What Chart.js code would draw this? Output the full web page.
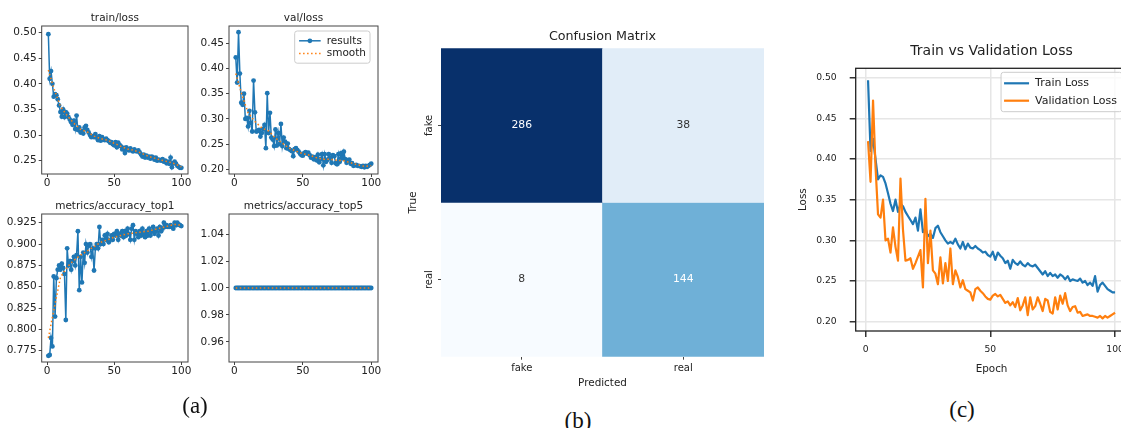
<!DOCTYPE html>
<html>
<head>
<meta charset="utf-8">
<title>Training curves and confusion matrix</title>
<script src="https://cdn.jsdelivr.net/npm/chart.js@4.4.0/dist/chart.umd.min.js"></script>
<style>
  html, body { margin: 0; padding: 0; background: #fff; }
  body { position: relative; width: 1121px; height: 428px; overflow: hidden; }
  canvas { position: absolute; }
  .cap {
    position: absolute;
    transform: translate(-50%, -50%);
    font-family: "Liberation Serif", "DejaVu Serif", serif;
    font-size: 23px;
    color: #111;
    white-space: nowrap;
  }
</style>
</head>
<body>
<canvas id="trainLoss" width="196" height="194" style="left:0;top:0"></canvas>
<canvas id="valLoss" width="196" height="194" style="left:190px;top:0"></canvas>
<canvas id="accTop1" width="196" height="194" style="left:0;top:188px"></canvas>
<canvas id="accTop5" width="196" height="194" style="left:190px;top:188px"></canvas>
<canvas id="confusion" width="370" height="372" style="left:400px;top:20px"></canvas>
<canvas id="lossCompare" width="345" height="349" style="left:790px;top:30px"></canvas>
<div class="cap" style="left:195px;top:406px">(a)</div>
<div class="cap" style="left:578px;top:421px">(b)</div>
<div class="cap" style="left:962px;top:410px">(c)</div>

<script>
// per-epoch training log (100 epochs)
const epochs = Array.from({ length: 100 }, (_, i) => i + 1);

const trainLoss = [
  0.497, 0.410, 0.425, 0.400, 0.375, 0.380, 0.378, 0.370, 0.358, 0.345,
  0.336, 0.350, 0.335, 0.345, 0.342, 0.335, 0.330, 0.325, 0.320, 0.328,
  0.312, 0.338, 0.310, 0.315, 0.305, 0.308, 0.303, 0.315, 0.318, 0.310,
  0.305, 0.300, 0.296, 0.298, 0.296, 0.302, 0.295, 0.290, 0.298, 0.289,
  0.296, 0.291, 0.290, 0.293, 0.290, 0.288, 0.285, 0.286, 0.282, 0.280,
  0.286, 0.276, 0.285, 0.281, 0.278, 0.272, 0.275, 0.265, 0.276, 0.272,
  0.270, 0.274, 0.270, 0.268, 0.272, 0.269, 0.268, 0.270, 0.266, 0.262,
  0.258, 0.262, 0.256, 0.260, 0.256, 0.258, 0.254, 0.258, 0.256, 0.252,
  0.256, 0.250, 0.252, 0.251, 0.250, 0.253, 0.248, 0.250, 0.245, 0.248,
  0.244, 0.256, 0.237, 0.245, 0.248, 0.244, 0.240, 0.238, 0.236, 0.236
];

const valLoss = [
  0.422, 0.372, 0.472, 0.390, 0.332, 0.328, 0.350, 0.300, 0.302, 0.285,
  0.316, 0.292, 0.275, 0.376, 0.313, 0.275, 0.276, 0.278, 0.265, 0.272,
  0.280, 0.288, 0.242, 0.351, 0.272, 0.312, 0.263, 0.259, 0.246, 0.279,
  0.247, 0.272, 0.250, 0.290, 0.246, 0.263, 0.255, 0.242, 0.251, 0.240,
  0.238, 0.236, 0.226, 0.240, 0.242, 0.238, 0.235, 0.231, 0.228, 0.227,
  0.232, 0.234, 0.231, 0.233, 0.228, 0.223, 0.225, 0.220, 0.224, 0.218,
  0.229, 0.214, 0.220, 0.230, 0.208, 0.230, 0.215, 0.219, 0.230, 0.222,
  0.213, 0.228, 0.226, 0.212, 0.210, 0.230, 0.215, 0.232, 0.222, 0.235,
  0.220, 0.213, 0.218, 0.219, 0.211, 0.212, 0.207, 0.208, 0.209, 0.207,
  0.207, 0.206, 0.205, 0.207, 0.204, 0.207, 0.205, 0.207, 0.209, 0.211
];

const accTop1 = [
  0.769, 0.770, 0.790, 0.780, 0.862, 0.815, 0.860, 0.870, 0.875, 0.870,
  0.877, 0.872, 0.865, 0.811, 0.895, 0.875, 0.880, 0.870, 0.880, 0.885,
  0.875, 0.887, 0.915, 0.846, 0.885, 0.855, 0.890, 0.878, 0.900, 0.890,
  0.898, 0.900, 0.885, 0.895, 0.869, 0.895, 0.900, 0.895, 0.920, 0.900,
  0.905, 0.900, 0.910, 0.905, 0.912, 0.902, 0.905, 0.910, 0.905, 0.912,
  0.910, 0.915, 0.905, 0.912, 0.910, 0.915, 0.908, 0.915, 0.910, 0.918,
  0.912, 0.905, 0.918, 0.922, 0.905, 0.915, 0.912, 0.908, 0.915, 0.910,
  0.918, 0.912, 0.908, 0.915, 0.910, 0.918, 0.910, 0.915, 0.920, 0.912,
  0.915, 0.918, 0.910, 0.920, 0.915, 0.918, 0.925, 0.920, 0.922, 0.920,
  0.920, 0.922, 0.920, 0.918, 0.925, 0.922, 0.925, 0.923, 0.922, 0.921
];

const accTop5 = [
  1, 1, 1, 1, 1, 1, 1, 1, 1, 1, 1, 1, 1, 1, 1, 1, 1, 1, 1, 1,
  1, 1, 1, 1, 1, 1, 1, 1, 1, 1, 1, 1, 1, 1, 1, 1, 1, 1, 1, 1,
  1, 1, 1, 1, 1, 1, 1, 1, 1, 1, 1, 1, 1, 1, 1, 1, 1, 1, 1, 1,
  1, 1, 1, 1, 1, 1, 1, 1, 1, 1, 1, 1, 1, 1, 1, 1, 1, 1, 1, 1,
  1, 1, 1, 1, 1, 1, 1, 1, 1, 1, 1, 1, 1, 1, 1, 1, 1, 1, 1, 1
];

// smoothed curves, sampled every 5 epochs
const smoothEpochs = [1, 5, 10, 15, 20, 25, 30, 35, 40, 45, 50, 55, 60, 65, 70, 75, 80, 85, 90, 95, 100];
const smoothTrain = [0.427, 0.392, 0.356, 0.338, 0.323, 0.311, 0.306, 0.298, 0.293, 0.290, 0.284,
                     0.278, 0.273, 0.270, 0.265, 0.259, 0.255, 0.251, 0.248, 0.244, 0.238];
const smoothVal = [0.390, 0.352, 0.312, 0.295, 0.282, 0.276, 0.262, 0.252, 0.242, 0.236, 0.231,
                   0.228, 0.223, 0.220, 0.220, 0.218, 0.217, 0.213, 0.209, 0.206, 0.207];
const smoothAcc = [0.790, 0.822, 0.861, 0.873, 0.881, 0.887, 0.892, 0.897, 0.902, 0.905, 0.908,
                   0.910, 0.912, 0.913, 0.914, 0.915, 0.917, 0.919, 0.921, 0.923, 0.922];
const smoothTop5 = [1, 1, 1, 1, 1, 1, 1, 1, 1, 1, 1, 1, 1, 1, 1, 1, 1, 1, 1, 1, 1];

// confusion matrix (rows = true, cols = predicted)
const classNames = ['fake', 'real'];
const confusion = [
  [286, 38],
  [8, 144]
];

const epochTicks = [0, 50, 100];

const BLUE = '#1f77b4';
const ORANGE = '#ff7f0e';
const TEXT = '#222';
const FONT = '"DejaVu Sans", "Liberation Sans", sans-serif';
Chart.defaults.font.family = FONT;
Chart.defaults.color = TEXT;

const xy = (xs, ys) => xs.map((x, i) => ({ x, y: ys[i] }));
const setTicks = vals => scale => { scale.ticks = vals.map(value => ({ value })); };
const setWidth = w => scale => { scale.width = w; };
const setHeight = h => scale => { scale.height = h; };

// title centred over the plot area
const panelTitle = {
  id: 'panelTitle',
  afterDraw(chart, args, o) {
    if (!o.text) return;
    const { ctx, chartArea: a } = chart;
    ctx.save();
    ctx.font = `${o.size}px ${FONT}`;
    ctx.fillStyle = TEXT;
    ctx.textAlign = 'center';
    ctx.textBaseline = 'middle';
    ctx.fillText(o.text, (a.left + a.right) / 2, a.top - o.gap);
    ctx.restore();
  }
};

// box around the axes, like matplotlib spines
const frame = {
  id: 'frame',
  afterDatasetsDraw(chart, args, o) {
    if (!o.color) return;
    const { ctx, chartArea: a } = chart;
    ctx.save();
    ctx.strokeStyle = o.color;
    ctx.lineWidth = o.width;
    ctx.strokeRect(a.left, a.top, a.right - a.left, a.bottom - a.top);
    ctx.restore();
  }
};

// framed legend in the upper right corner of the plot area
const boxLegend = {
  id: 'boxLegend',
  afterDraw(chart, args, o) {
    if (!o.items) return;
    const { ctx, chartArea: a } = chart;
    const sets = chart.data.datasets;
    ctx.save();
    ctx.font = `${o.size}px ${FONT}`;
    const textW = Math.max(...o.items.map(i => ctx.measureText(sets[i].label).width));
    const w = o.padL + o.handle + o.gap + textW + o.padR;
    const h = o.padY * 2 + o.row * o.items.length;
    const x0 = a.right - o.right - w;
    const y0 = a.top + o.top;
    ctx.beginPath();
    ctx.roundRect(x0, y0, w, h, 2.5);
    ctx.fillStyle = 'rgba(255,255,255,0.8)';
    ctx.fill();
    ctx.strokeStyle = '#cccccc';
    ctx.lineWidth = 1;
    ctx.stroke();
    o.items.forEach((di, k) => {
      const ds = sets[di];
      const cy = y0 + o.padY + o.row * (k + 0.5);
      const hx = x0 + o.padL;
      ctx.strokeStyle = ds.borderColor;
      ctx.lineWidth = ds.borderWidth;
      ctx.setLineDash(ds.borderDash || []);
      ctx.beginPath();
      ctx.moveTo(hx, cy);
      ctx.lineTo(hx + o.handle, cy);
      ctx.stroke();
      ctx.setLineDash([]);
      if (ds.pointRadius) {
        ctx.fillStyle = ds.borderColor;
        ctx.beginPath();
        ctx.arc(hx + o.handle / 2, cy, ds.pointRadius, 0, Math.PI * 2);
        ctx.fill();
      }
      ctx.fillStyle = TEXT;
      ctx.textAlign = 'left';
      ctx.textBaseline = 'middle';
      ctx.fillText(ds.label, hx + o.handle + o.gap, cy);
    });
    ctx.restore();
  }
};

// Blues colormap
const BLUES = [[247, 251, 255], [222, 235, 247], [198, 219, 239], [158, 202, 225], [107, 174, 214],
               [66, 146, 198], [33, 113, 181], [8, 81, 156], [8, 48, 107]];
function blues(t) {
  const p = Math.min(Math.max(t, 0), 1) * (BLUES.length - 1);
  const i = Math.min(Math.floor(p), BLUES.length - 2);
  const f = p - i;
  return BLUES[i].map((v, k) => Math.round(v + (BLUES[i + 1][k] - v) * f));
}
function luminance(rgb) {
  const lin = rgb.map(c => { c /= 255; return c <= 0.03928 ? c / 12.92 : Math.pow((c + 0.055) / 1.055, 2.4); });
  return 0.2126 * lin[0] + 0.7152 * lin[1] + 0.0722 * lin[2];
}
const flat = confusion.flat();
const vmin = Math.min(...flat);
const vmax = Math.max(...flat);
const cellRgb = v => blues((v - vmin) / (vmax - vmin));

// cell counts and rotated row labels for the heatmap
const cellText = {
  id: 'cellText',
  afterDatasetsDraw(chart, args, o) {
    if (!o.values) return;
    const { ctx, chartArea: a } = chart;
    ctx.save();
    ctx.textAlign = 'center';
    ctx.textBaseline = 'middle';
    ctx.font = `${o.size}px ${FONT}`;
    chart.data.datasets.forEach((ds, r) => {
      chart.getDatasetMeta(r).data.forEach((bar, c) => {
        const v = o.values[r][c];
        const { x, y, base } = bar.getProps(['x', 'y', 'base'], true);
        ctx.fillStyle = luminance(cellRgb(v)) < 0.408 ? '#ffffff' : '#333333';
        ctx.fillText(String(v), x, (y + base) / 2);
      });
    });
    const ys = chart.scales.y;
    ctx.fillStyle = TEXT;
    ctx.font = `${o.tickSize}px ${FONT}`;
    ys.ticks.forEach((t, i) => {
      ctx.save();
      ctx.translate(a.left - o.tickGap, ys.getPixelForValue(t.value));
      ctx.rotate(-Math.PI / 2);
      ctx.fillText(o.labels[i], 0, 0);
      ctx.restore();
    });
    ctx.restore();
  }
};

Chart.register(panelTitle, frame, boxLegend, cellText);

function smallPanel(id, cfg) {
  const datasets = [
    { label: 'smooth', data: xy(smoothEpochs, cfg.smooth), borderColor: ORANGE, borderWidth: 1.5,
      borderDash: [1.5, 2.5], pointRadius: 0 },
    { label: 'results', data: xy(epochs, cfg.values), borderColor: BLUE, backgroundColor: BLUE,
      borderWidth: 1.5, pointRadius: 2.4, pointBorderWidth: 0 }
  ];
  const smallAxisGrid = { drawOnChartArea: false, tickLength: 3, tickColor: '#444' };
  return new Chart(document.getElementById(id), {
    type: 'line',
    data: { datasets },
    options: {
      responsive: false,
      animation: false,
      layout: { padding: { top: 26, right: 8, left: 0, bottom: 0 } },
      plugins: {
        legend: { display: false },
        tooltip: { enabled: false },
        panelTitle: { text: cfg.title, size: 10.5, gap: 7.5 },
        frame: { color: '#444', width: 1 },
        boxLegend: cfg.legend
          ? { items: [1, 0], size: 10.5, padL: 4.4, padR: 4, padY: 3.5, row: 12.6, handle: 21.6, gap: 6, right: 8, top: 5 }
          : {}
      },
      scales: {
        x: {
          type: 'linear', min: -3.95, max: 104.95,
          afterBuildTicks: setTicks(epochTicks), afterFit: setHeight(20),
          grid: smallAxisGrid, border: { display: false },
          ticks: { font: { size: 10.5, lineHeight: 1 }, padding: 1 }
        },
        y: {
          type: 'linear', min: cfg.yMin, max: cfg.yMax,
          afterBuildTicks: setTicks(cfg.yTicks), afterFit: setWidth(cfg.yWidth),
          grid: smallAxisGrid, border: { display: false },
          ticks: { font: { size: 10.5 }, padding: 2, callback: v => v.toFixed(cfg.dec) }
        }
      }
    }
  });
}

smallPanel('trainLoss', {
  title: 'train/loss', values: trainLoss, smooth: smoothTrain,
  yMin: 0.224, yMax: 0.513, yTicks: [0.25, 0.30, 0.35, 0.40, 0.45, 0.50], dec: 2, yWidth: 41.7
});
smallPanel('valLoss', {
  title: 'val/loss', values: valLoss, smooth: smoothVal, legend: true,
  yMin: 0.1907, yMax: 0.4843, yTicks: [0.20, 0.25, 0.30, 0.35, 0.40, 0.45], dec: 2, yWidth: 39
});
smallPanel('accTop1', {
  title: 'metrics/accuracy_top1', values: accTop1, smooth: smoothAcc,
  yMin: 0.7618, yMax: 0.9352, yTicks: [0.775, 0.800, 0.825, 0.850, 0.875, 0.900, 0.925], dec: 3, yWidth: 41.7
});
smallPanel('accTop5', {
  title: 'metrics/accuracy_top5', values: accTop5, smooth: smoothTop5,
  yMin: 0.945, yMax: 1.055, yTicks: [0.96, 0.98, 1.00, 1.02, 1.04], dec: 2, yWidth: 39
});

// confusion matrix as floating bars, one dataset per true class
new Chart(document.getElementById('confusion'), {
  type: 'bar',
  data: {
    labels: classNames,
    datasets: confusion.map((row, r) => ({
      label: classNames[r],
      data: row.map(() => [r, r + 1]),
      backgroundColor: row.map(v => `rgb(${cellRgb(v).join(',')})`),
      barPercentage: 1,
      categoryPercentage: 1,
      grouped: false,
      borderWidth: 0,
      borderSkipped: false
    }))
  },
  options: {
    responsive: false,
    animation: false,
    layout: { padding: { top: 28.3, right: 6, left: 0, bottom: 0 } },
    plugins: {
      legend: { display: false },
      tooltip: { enabled: false },
      panelTitle: { text: 'Confusion Matrix', size: 12.7, gap: 11.6 },
      cellText: { values: confusion, labels: classNames, size: 10.8, tickSize: 10, tickGap: 12 }
    },
    scales: {
      x: {
        afterFit: setHeight(35.3),
        grid: { offset: false, drawOnChartArea: false, tickLength: 3, tickColor: '#444' },
        border: { display: false },
        ticks: { font: { size: 10 }, padding: 2.6 },
        title: { display: true, text: 'Predicted', font: { size: 10.4 }, padding: { top: 0, bottom: 2.5 } }
      },
      y: {
        type: 'linear', min: 0, max: 2, reverse: true,
        afterBuildTicks: setTicks([0.5, 1.5]), afterFit: setWidth(41),
        grid: { drawOnChartArea: false, tickLength: 3, tickColor: '#444' },
        border: { display: false },
        ticks: { display: false },
        title: { display: true, text: 'True', font: { size: 10.4 }, padding: { top: 6.8, bottom: 0 } }
      }
    }
  }
});

// train vs validation loss
new Chart(document.getElementById('lossCompare'), {
  type: 'line',
  data: {
    datasets: [
      { label: 'Train Loss', data: xy(epochs, trainLoss), borderColor: BLUE, borderWidth: 2.2,
        pointRadius: 0, borderJoinStyle: 'round', order: 1 },
      { label: 'Validation Loss', data: xy(epochs, valLoss), borderColor: ORANGE, borderWidth: 2.2,
        pointRadius: 0, borderJoinStyle: 'round', order: 0 }
    ]
  },
  options: {
    responsive: false,
    animation: false,
    layout: { padding: { top: 38.3, right: 7.6, left: 0, bottom: 0 } },
    plugins: {
      legend: { display: false },
      tooltip: { enabled: false },
      panelTitle: { text: 'Train vs Validation Loss', size: 14, gap: 16.6 },
      frame: { color: '#222', width: 1.3 },
      boxLegend: { items: [0, 1], size: 11, padL: 3, padR: 5, padY: 2.3, row: 17.4, handle: 25, gap: 6, right: 5.4, top: 4 }
    },
    scales: {
      x: {
        type: 'linear', min: -3.95, max: 104.95,
        afterBuildTicks: setTicks(epochTicks), afterFit: setHeight(48),
        grid: { color: '#e6e6e6', lineWidth: 1.5, tickColor: '#333', tickLength: 6 },
        border: { display: false },
        ticks: { font: { size: 9.2, lineHeight: 1 }, padding: 8 },
        title: { display: true, text: 'Epoch', font: { size: 10.4 }, padding: { top: 0, bottom: 3.5 } }
      },
      y: {
        type: 'linear', min: 0.1885, max: 0.5116,
        afterBuildTicks: setTicks([0.20, 0.25, 0.30, 0.35, 0.40, 0.45, 0.50]), afterFit: setWidth(65.7),
        grid: { color: '#e6e6e6', lineWidth: 1.5, tickColor: '#333', tickLength: 6 },
        border: { display: false },
        ticks: { font: { size: 9.2 }, padding: 13, callback: v => v.toFixed(2) },
        title: { display: true, text: 'Loss', font: { size: 10.4 }, padding: { top: 7, bottom: 0 } }
      }
    }
  }
});
</script>
</body>
</html>
